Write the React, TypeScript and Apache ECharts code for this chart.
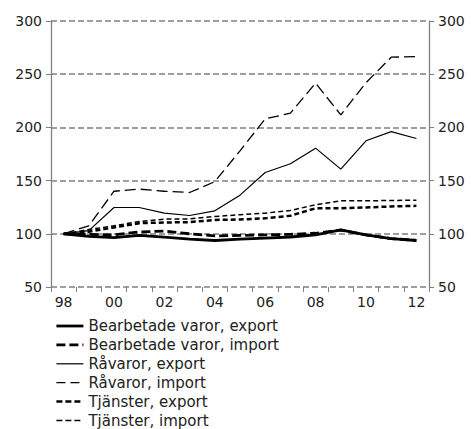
import React, { useEffect, useRef } from "react";
import * as echarts from "echarts";

const years = ["98", "99", "00", "01", "02", "03", "04", "05", "06", "07", "08", "09", "10", "11", "12"];
const yTicks = [50, 100, 150, 200, 250, 300];

const bearbetadeExport = [100, 97.5, 96.5, 98.5, 96.9, 95, 93.7, 95, 96, 97, 99, 103.8, 99, 95.5, 93.7];
const bearbetadeImport = [100, 99.5, 99, 101.8, 102.5, 100, 98, 98.5, 99, 99.5, 100.5, 103.5, 99, 95.5, 93.7];
const ravarorExport = [100, 103, 124.7, 124.7, 119.4, 117.2, 121.6, 136.3, 157.6, 165.8, 180.5, 160.8, 187.4, 196, 189.6];
const ravarorImport = [100, 107.5, 140, 142, 140, 138.8, 149, 178, 208, 213.4, 241.6, 211.8, 242, 266, 266.6];
const tjansterExport = [100, 102, 106, 110, 110.6, 111, 113, 113.5, 114.5, 117, 124, 124, 124.8, 125.7, 126.3];
const tjansterImport = [100, 104, 107.5, 111.6, 113.8, 114, 116.3, 117.9, 119.4, 121.9, 127.3, 131, 131, 131.3, 131.6];

const seriesNames = [
  "Bearbetade varor, export",
  "Bearbetade varor, import",
  "Råvaror, export",
  "Råvaror, import",
  "Tjänster, export",
  "Tjänster, import",
];

const FONT = "'DejaVu Sans', Verdana, sans-serif";

export default function App() {
  const ref = useRef<HTMLDivElement>(null);
  useEffect(() => {
    if (!ref.current) return;
    const chart = echarts.init(ref.current, undefined, { renderer: "svg" });
    const styles = [
      { width: 2.8, type: "solid" as any, legendType: "solid" as any },
      { width: 2.8, type: [9, 4] as any, legendType: [9, 4] as any },
      { width: 1.2, type: "solid" as any, legendType: "solid" as any },
      { width: 1.3, type: [11, 5] as any, legendType: [9, 5] as any },
      { width: 2.5, type: [5, 3] as any, legendType: [6, 3] as any },
      { width: 1.5, type: [5, 3] as any, legendType: [6, 3] as any },
    ];
    const datas = [bearbetadeExport, bearbetadeImport, ravarorExport, ravarorImport, tjansterExport, tjansterImport];
    const yAxisBase = {
      type: "value" as const,
      min: yTicks[0],
      max: yTicks[yTicks.length - 1],
      interval: 50,
      axisLine: { show: true, lineStyle: { color: "#808080", width: 1.3 } },
      axisTick: { show: true, length: 5, lineStyle: { color: "#808080" } },
      axisLabel: { color: "#222", fontSize: 14, fontFamily: FONT, margin: 9 },
    };
    chart.setOption({
      animation: false,
      grid: { left: 51, right: 42, top: 21, bottom: 142, containLabel: false },
      legend: {
        orient: "vertical",
        left: 55,
        top: 318.5,
        padding: 0,
        itemWidth: 27,
        itemHeight: 14,
        itemGap: 3.9,
        itemStyle: { opacity: 0 },
        textStyle: { color: "#222", fontSize: 15, fontFamily: FONT },
        data: seriesNames.map((name, i) => ({
          name,
          itemStyle: { opacity: 0 },
          lineStyle: { color: "#000", width: styles[i].width, type: styles[i].legendType },
        })),
      },
      xAxis: {
        type: "category",
        data: years,
        boundaryGap: true,
        axisLine: { show: false },
        axisTick: { show: true, interval: 0, length: 5, lineStyle: { color: "#808080" } },
        axisLabel: { interval: 1, color: "#222", fontSize: 14, fontFamily: FONT, margin: 8 },
        splitLine: { show: false },
      },
      yAxis: [
        {
          ...yAxisBase,
          position: "left",
          splitLine: { show: true, lineStyle: { color: "#808080", width: 1.5, type: [6, 3] } },
        },
        {
          ...yAxisBase,
          position: "right",
          splitLine: { show: false },
        },
      ],
      series: seriesNames.map((name, i) => ({
        name,
        type: "line",
        data: datas[i],
        symbol: "none",
        color: "#000",
        lineStyle: { color: "#000", width: styles[i].width, type: styles[i].type },
      })),
    });
    return () => chart.dispose();
  }, []);
  return <div ref={ref} style={{ width: 471, height: 429, position: "absolute", left: 0, top: 0 }} />;
}
